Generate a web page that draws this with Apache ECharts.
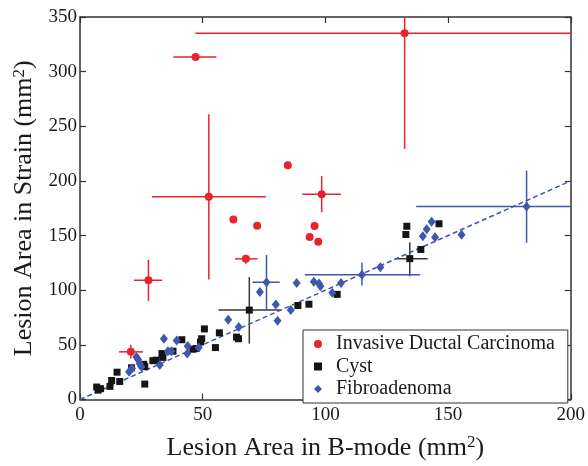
<!DOCTYPE html>
<html>
<head>
<meta charset="utf-8">
<script src="https://cdn.jsdelivr.net/npm/echarts@6.0.0/dist/echarts.min.js"></script>
<style>html,body{margin:0;padding:0;background:#fff}</style>
</head>
<body>
<div id="main" style="width:588px;height:466px"></div>
<script>
// points: [B-mode area, strain area]
var idcPoints = [[47.1,313.5],[132.3,335.2],[52.5,185.5],[84.7,214.3],[62.5,164.7],[72.2,159],
    [98.5,187.8],[95.6,158.7],[93.6,148.8],[97.1,144.3],[67.6,128.7],[27.9,109.1],[20.7,43.6]];
var cystPoints = [[6.8,11.4],[8.4,9.9],[7.4,8.6],[12.2,12],[12.9,17.4],[15.1,25],[16.2,16.5],[21,29],
    [26.4,14.1],[26,32.2],[26.4,30],[29.7,35.5],[31.1,36],[33.4,42],[33.8,38.5],[37.9,44.2],[41.5,54.7],
    [46,46],[47.3,46.6],[49.1,52.6],[49.6,55.6],[50.7,64.6],[55.2,47.5],[56.8,61],[63.8,57.1],[64.6,55.6],
    [69,81.8],[88.8,86],[93.3,87.2],[104.8,96.2],[132.8,151],[133.2,158.5],[146.3,160.8],[138.9,137.3],[134.4,128.9]];
var fibroPoints = [[20,25.5],[21.2,28.6],[23,39],[23.7,36.5],[24.3,33],[25,30],[32.5,31.6],[34.2,55.6],
    [35.8,44.2],[37.2,44.2],[39.4,54.1],[43.7,42],[43.9,49],[48.4,47.5],[60.4,72.9],[64.7,66.4],[73.3,98.4],
    [76,107.3],[79.8,86.9],[80.5,72.1],[85.9,82],[88.3,106.5],[95.3,107.7],[97.4,106.1],[98,103.7],
    [102.8,97.7],[106.4,106.7],[114.9,114.2],[122.4,121.1],[139.7,149.4],[141.3,155.8],[143.3,162.6],
    [144.7,148.5],[155.5,150.7],[182,176.7]];

// error bars: [x, y, xLow, xHigh, yLow, yHigh]
var idcErr = [[47.1,313.5,38.1,55.6,313.5,313.5],[132.3,335.2,47,230,229.3,441],
    [52.5,185.5,29.3,75.7,109.7,260.9],[98.5,187.8,90.6,106.4,171.3,204.4],
    [67.6,128.7,63.2,72.3,124.2,132.3],[27.9,109.1,22,33.5,90.2,127.8],[20.7,43.6,15.9,25.7,37.6,50.2]];
var cystErr = [[69,81.8,56.4,81.8,51.1,112],[134.4,128.9,128.5,141.7,112.7,144]];
var fibroErr = [[76,107.3,70.3,81.4,82,132.3],[114.9,114.2,91.6,138.6,104.3,125.3],[182,176.7,137,227,143.4,209.5]];

var fitLine = [[0,0],[200,200]];

var xTicks = {min: 0, max: 200, interval: 50};
var yTicks = {min: 0, max: 350, interval: 50};

var serif = "'Liberation Serif', 'Times New Roman', serif";
var RED = '#e8232b', BLACK = '#151515', BLUE = '#3f57ad';

function errSeries(data, color) {
    return {
        type: 'custom',
        z: 1,
        silent: true,
        data: data,
        renderItem: function (params, api) {
            var cs = params.coordSys;
            function clampX(v) { return Math.max(cs.x, Math.min(cs.x + cs.width, v)); }
            function clampY(v) { return Math.max(cs.y, Math.min(cs.y + cs.height, v)); }
            var c = api.coord([api.value(0), api.value(1)]);
            var xl = api.coord([api.value(2), api.value(1)]);
            var xh = api.coord([api.value(3), api.value(1)]);
            var yl = api.coord([api.value(0), api.value(4)]);
            var yh = api.coord([api.value(0), api.value(5)]);
            var style = {stroke: color, lineWidth: 1.5};
            return {
                type: 'group',
                children: [
                    {type: 'line', shape: {x1: clampX(xl[0]), y1: c[1], x2: clampX(xh[0]), y2: c[1]}, style: style},
                    {type: 'line', shape: {x1: c[0], y1: clampY(yl[1]), x2: c[0], y2: clampY(yh[1])}, style: style}
                ]
            };
        }
    };
}

var axisLine = {show: true, onZero: false, lineStyle: {color: '#333', width: 1.5}};
var tick = {show: true, inside: true, length: 6, lineStyle: {color: '#333', width: 1.2}};
var label = {color: '#1a1a1a', fontFamily: serif, fontSize: 19};
var nameStyle = {fontFamily: serif, fontSize: 26, color: '#1a1a1a',
    rich: {sup: {fontFamily: serif, fontSize: 17, color: '#1a1a1a', verticalAlign: 'top', padding: [0, 0, 10, 0]}}};

var myChart = echarts.init(document.getElementById('main'));
var option = {
    backgroundColor: '#fff',
    animation: false,
    grid: {left: 80, right: 15, top: 17, bottom: 61},
    legend: {
        orient: 'vertical',
        left: 303,
        top: 330,
        backgroundColor: '#fff',
        borderColor: '#333',
        borderWidth: 1,
        borderRadius: 0,
        padding: [4, 13, 4, 11],
        itemWidth: 8,
        itemHeight: 8,
        itemGap: 2.5,
        textStyle: {fontFamily: serif, fontSize: 20, color: '#1a1a1a', lineHeight: 20, padding: [0, 0, 0, 9]},
        data: [
            {name: 'Invasive Ductal Carcinoma', icon: 'circle'},
            {name: 'Cyst', icon: 'rect'},
            {name: 'Fibroadenoma', icon: 'diamond'}
        ]
    },
    xAxis: [{
        type: 'value', min: xTicks.min, max: xTicks.max, interval: xTicks.interval,
        axisLine: axisLine, axisTick: tick, splitLine: {show: false},
        axisLabel: Object.assign({margin: 6}, label),
        name: 'Lesion Area in B-mode (mm{sup|2})',
        nameLocation: 'middle',
        nameGap: 35,
        nameTextStyle: nameStyle
    }, {
        type: 'value', position: 'top', min: xTicks.min, max: xTicks.max, interval: xTicks.interval,
        axisLine: axisLine, axisTick: tick, splitLine: {show: false}, axisLabel: {show: false}
    }],
    yAxis: [{
        type: 'value', min: yTicks.min, max: yTicks.max, interval: yTicks.interval,
        axisLine: axisLine, axisTick: tick, splitLine: {show: false},
        axisLabel: Object.assign({margin: 3}, label),
        name: 'Lesion Area in Strain (mm{sup|2})',
        nameLocation: 'middle',
        nameGap: 40,
        nameTextStyle: nameStyle
    }, {
        type: 'value', position: 'right', min: yTicks.min, max: yTicks.max, interval: yTicks.interval,
        axisLine: axisLine, axisTick: tick, splitLine: {show: false}, axisLabel: {show: false}
    }],
    series: [
        errSeries(idcErr, RED),
        errSeries(cystErr, '#3a3a3a'),
        errSeries(fibroErr, BLUE),
        {
            type: 'line', data: fitLine, symbol: 'none', silent: true, z: 2,
            lineStyle: {color: BLUE, width: 1.5, type: [5, 3]}
        },
        {
            name: 'Invasive Ductal Carcinoma', type: 'scatter', data: idcPoints, z: 3,
            symbol: 'circle', symbolSize: 8, itemStyle: {color: RED, opacity: 1}
        },
        {
            name: 'Cyst', type: 'scatter', data: cystPoints, z: 3,
            symbol: 'rect', symbolSize: 7, itemStyle: {color: BLACK, opacity: 1}
        },
        {
            name: 'Fibroadenoma', type: 'scatter', data: fibroPoints, z: 3,
            symbol: 'diamond', symbolSize: [8, 10], itemStyle: {color: BLUE, opacity: 1}
        }
    ]
};
myChart.setOption(option);
</script>
</body>
</html>
